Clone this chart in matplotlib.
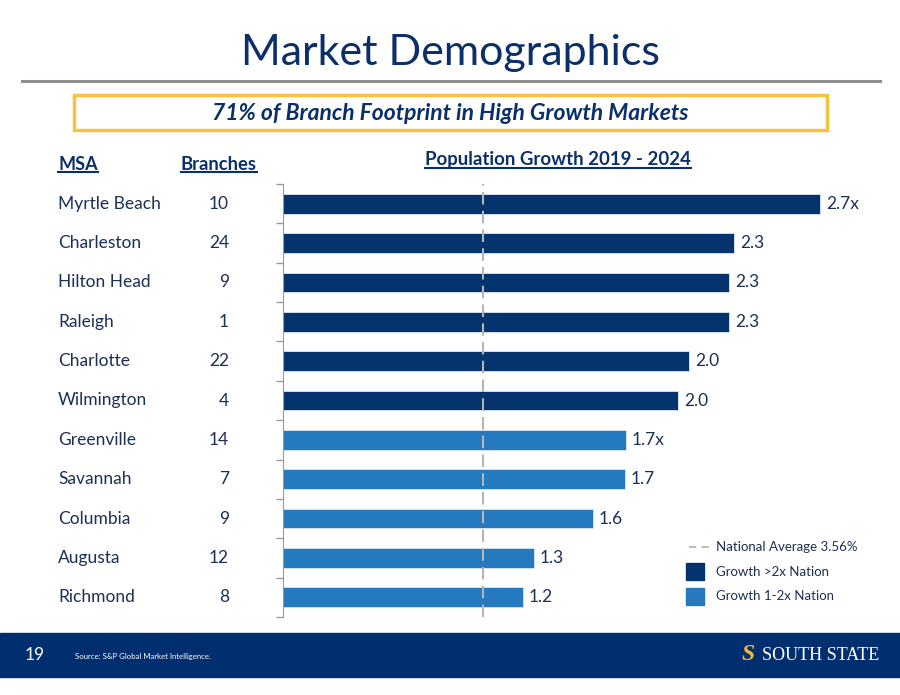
import numpy as np
import matplotlib
matplotlib.use("Agg")
from matplotlib import pyplot as plt
from matplotlib.patches import Rectangle
from matplotlib.lines import Line2D
from matplotlib.transforms import blended_transform_factory

plt.rcParams['font.family'] = ['Lato', 'DejaVu Sans']

# data
msa = ["Myrtle Beach", "Charleston", "Hilton Head", "Raleigh", "Charlotte", "Wilmington",
       "Greenville", "Savannah", "Columbia", "Augusta", "Richmond"]
branches = [10, 24, 9, 1, 22, 4, 14, 7, 9, 12, 8]
growth = [2.685, 2.255, 2.23, 2.23, 2.03, 1.975, 1.715, 1.71, 1.55, 1.255, 1.2]
growth_labels = ["2.7x", "2.3", "2.3", "2.3", "2.0", "2.0", "1.7x", "1.7", "1.6", "1.3", "1.2"]
high_growth = [True, True, True, True, True, True, False, False, False, False, False]
national_avg = 1.0

navy = "#0b2f6b"
dark_bar = "#05336e"
light_bar = "#2479bf"
txt = "#1c2f55"

fig = plt.figure(figsize=(9, 6.95), dpi=100)

# title + rule
fig.text(0.5, 1 - 53 / 695, "Market Demographics", ha="center", va="center",
         fontsize=31, color=navy)
fig.add_artist(Line2D([22 / 900, 880 / 900], [1 - 81 / 695] * 2, color="#8f8f8f", lw=2.2))

# yellow box
fig.add_artist(Rectangle((74 / 900, 1 - 130 / 695), 753 / 900, 35 / 695, facecolor="white",
                         edgecolor="#f6c244", lw=2.5, transform=fig.transFigure))
fig.text(0.5, 1 - 113 / 695, "71% of Branch Footprint in High Growth Markets", ha="center",
         va="center", fontsize=16.5, color=navy, style="italic", weight="bold")

# headers
h1 = fig.text(58 / 900, 1 - 164 / 695, "MSA", ha="left", va="center", fontsize=13,
              color=navy, weight="bold")
h2 = fig.text(181 / 900, 1 - 164 / 695, "Branches", ha="left", va="center", fontsize=13.2,
              color=navy, weight="bold")
h3 = fig.text(558 / 900, 1 - 160 / 695, "Population Growth 2019 - 2024", ha="center",
              va="center", fontsize=13.4, color=navy, weight="bold")

# bars
ax = fig.add_axes([283 / 900, 1 - 617 / 695, 1 - 283 / 900 - 0.02, 433 / 695])
y = np.arange(len(msa))
cols = [dark_bar if h else light_bar for h in high_growth]
ax.barh(y, growth, height=0.5, color=cols, edgecolor="#dbe6f2", lw=0.6)
ax.axvline(national_avg, color="#b5b5b5", lw=1.5, dashes=(6, 3))
for i in range(len(msa)):
    ax.text(growth[i] + 0.03, i, growth_labels[i], ha="left", va="center",
            fontsize=12.5, color=txt)

ax.set_xlim(0, (882 - 283) / 200)
ax.set_ylim(len(msa) - 0.5, -0.5)
ax.set_yticks(np.arange(-0.5, len(msa), 1.0))
ax.set_yticklabels([])
ax.tick_params(axis="y", length=5, color="#9a9a9a", width=1)
ax.set_xticks([])
for s in ["top", "right", "bottom"]:
    ax.spines[s].set_visible(False)
ax.spines["left"].set_color("#9a9a9a")

tr = blended_transform_factory(fig.transFigure, ax.transData)
for i in range(len(msa)):
    ax.text(58 / 900, i, msa[i], transform=tr, ha="left", va="center", fontsize=12.5,
            color=txt, clip_on=False)
    ax.text(229 / 900, i, str(branches[i]), transform=tr, ha="right", va="center",
            fontsize=12.5, color=txt, clip_on=False)

# legend
fig.add_artist(Line2D([689 / 900, 709 / 900], [1 - 547 / 695] * 2, color="#b5b5b5",
                      lw=1.3, dashes=(4, 3)))
fig.text(716 / 900, 1 - 547 / 695, "National Average 3.56%", ha="left", va="center",
         fontsize=9.5, color=txt)
fig.add_artist(Rectangle((686 / 900, 1 - 580 / 695), 18 / 900, 17 / 695, color=dark_bar,
                         transform=fig.transFigure))
fig.text(716 / 900, 1 - 572 / 695, "Growth >2x Nation", ha="left", va="center",
         fontsize=9.5, color=txt)
fig.add_artist(Rectangle((686 / 900, 1 - 605 / 695), 18 / 900, 17 / 695, color=light_bar,
                         transform=fig.transFigure))
fig.text(716 / 900, 1 - 596 / 695, "Growth 1-2x Nation", ha="left", va="center",
         fontsize=9.5, color=txt)

# footer
fig.add_artist(Rectangle((0, 1 - 677 / 695), 1, 44 / 695, color="#012e6e",
                         transform=fig.transFigure))
fig.text(25 / 900, 1 - 655 / 695, "19", ha="left", va="center", fontsize=12.5, color="white")
fig.text(75 / 900, 1 - 656 / 695, "Source: S&P Global Market Intelligence.", ha="left",
         va="center", fontsize=5.6, color="white")
fig.text(748 / 900, 1 - 654 / 695, "S", ha="center", va="center", fontsize=17,
         color="#f2b53c", weight="bold", style="italic", family="Liberation Serif")
fig.text(762 / 900, 1 - 655 / 695, "SOUTH STATE", ha="left", va="center", fontsize=13,
         color="white", family="Liberation Serif")

# underlines under headers
fig.canvas.draw()
r = fig.canvas.get_renderer()
for t, yy in [(h1, 172), (h2, 172), (h3, 168)]:
    bb = t.get_window_extent(r)
    fig.add_artist(Line2D([bb.x0 / 900, bb.x1 / 900], [1 - yy / 695] * 2, color=navy, lw=1.5))

fig.savefig("out.png", dpi=100)
